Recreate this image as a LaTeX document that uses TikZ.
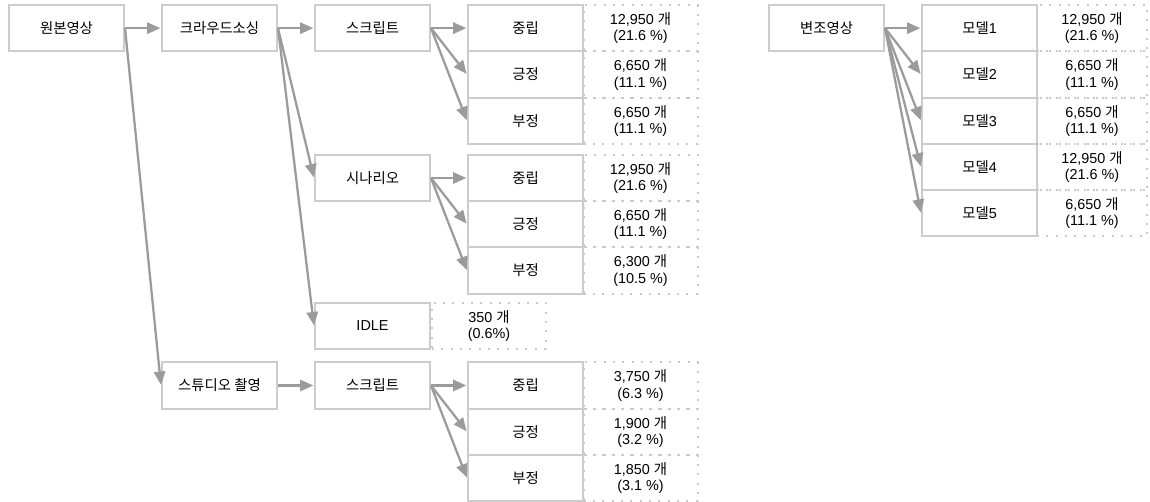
\documentclass[tikz,border=0pt]{standalone}
\usepackage{fontspec}
\setmainfont{Liberation Sans}
\newfontfamily\kr{Noto Sans CJK KR}
\usetikzlibrary{arrows.meta}
\definecolor{boxgray}{HTML}{CCCCCC}
\definecolor{arrgray}{HTML}{9B9B9B}
\definecolor{dotgray}{HTML}{CACACA}
\begin{document}
\begin{tikzpicture}[x=0.75pt,y=-0.75pt,
  font=\fontsize{10.8}{12.2}\selectfont,
  box/.style={draw=boxgray, line width=1.5pt, fill=white, minimum width=86.25pt, minimum height=34.7pt, inner sep=0pt, align=center},
  dotbox/.style={draw=dotgray, line width=1.5pt, dash pattern=on 1.5pt off 5.5pt, minimum width=85.5pt, minimum height=34.7pt, inner sep=0pt, align=center},
  dotboxr/.style={dotbox, minimum width=82.5pt},
  arr/.style={draw=arrgray, line width=1.7pt, -{Triangle[length=10pt,width=8.5pt]}, shorten >=0.5pt}
]
\useasboundingbox (0,0) rectangle (1150,502);

% dotted count boxes (drawn first)
\node[dotbox] (c1) at (640.5,28.15) {12,950 {\kr 개}\\(21.6 \%)};
\node[dotbox] (c2) at (640.5,74.45) {6,650 {\kr 개}\\(11.1 \%)};
\node[dotbox] (c3) at (640.5,120.75) {6,650 {\kr 개}\\(11.1 \%)};
\node[dotbox] (c4) at (640.5,178) {12,950 {\kr 개}\\(21.6 \%)};
\node[dotbox] (c5) at (640.5,224.3) {6,650 {\kr 개}\\(11.1 \%)};
\node[dotbox] (c6) at (640.5,270.6) {6,300 {\kr 개}\\(10.5 \%)};
\node[dotbox] (c7) at (489,326) {350 {\kr 개}\\(0.6\%)};
\node[dotbox] (c8) at (640.5,385.5) {3,750 {\kr 개}\\(6.3 \%)};
\node[dotbox] (c9) at (640.5,431.8) {1,900 {\kr 개}\\(3.2 \%)};
\node[dotbox] (c10) at (640.5,478.1) {1,850 {\kr 개}\\(3.1 \%)};

\node[dotboxr] (m1c) at (1092,28.15) {12,950 {\kr 개}\\(21.6 \%)};
\node[dotboxr] (m2c) at (1092,74.45) {6,650 {\kr 개}\\(11.1 \%)};
\node[dotboxr] (m3c) at (1092,120.75) {6,650 {\kr 개}\\(11.1 \%)};
\node[dotboxr] (m4c) at (1092,167.05) {12,950 {\kr 개}\\(21.6 \%)};
\node[dotboxr] (m5c) at (1092,213.35) {6,650 {\kr 개}\\(11.1 \%)};

% left tree
\node[box] (src) at (66.5,28.15) {\kr 원본영상};
\node[box] (cs) at (219.5,28.15) {\kr 크라우드소싱};
\node[box] (scr1) at (372.5,28.15) {\kr 스크립트};
\node[box] (n1) at (525.5,28.15) {\kr 중립};
\node[box] (p1) at (525.5,74.45) {\kr 긍정};
\node[box] (g1) at (525.5,120.75) {\kr 부정};

\node[box] (sce) at (372.5,178) {\kr 시나리오};
\node[box] (n2) at (525.5,178) {\kr 중립};
\node[box] (p2) at (525.5,224.3) {\kr 긍정};
\node[box] (g2) at (525.5,270.6) {\kr 부정};

\node[box] (idle) at (372.5,326) {IDLE};

\node[box] (std) at (219.5,385.5) {\kr 스튜디오 촬영};
\node[box] (scr2) at (372.5,385.5) {\kr 스크립트};
\node[box] (n3) at (525.5,385.5) {\kr 중립};
\node[box] (p3) at (525.5,431.8) {\kr 긍정};
\node[box] (g3) at (525.5,478.1) {\kr 부정};

% right tree
\node[box] (mod) at (826.5,28.15) {\kr 변조영상};
\node[box] (m1) at (979.5,28.15) {{\kr 모델}1};
\node[box] (m2) at (979.5,74.45) {{\kr 모델}2};
\node[box] (m3) at (979.5,120.75) {{\kr 모델}3};
\node[box] (m4) at (979.5,167.05) {{\kr 모델}4};
\node[box] (m5) at (979.5,213.35) {{\kr 모델}5};

% connectors
\draw[arr] (src.east) -- (cs.west);
\draw[arr] (src.east) -- (std.west);
\draw[arr] (cs.east) -- (scr1.west);
\draw[arr] (cs.east) -- (sce.west);
\draw[arr] (cs.east) -- (idle.west);
\draw[arr] (scr1.east) -- (n1.west);
\draw[arr] (scr1.east) -- (p1.west);
\draw[arr] (scr1.east) -- (g1.west);
\draw[arr] (sce.east) -- (n2.west);
\draw[arr] (sce.east) -- (p2.west);
\draw[arr] (sce.east) -- (g2.west);
\draw[arr] (std.east) -- (scr2.west);
\draw[arr] (scr2.east) -- (n3.west);
\draw[arr] (scr2.east) -- (p3.west);
\draw[arr] (scr2.east) -- (g3.west);
\draw[arr] (mod.east) -- (m1.west);
\draw[arr] (mod.east) -- (m2.west);
\draw[arr] (mod.east) -- (m3.west);
\draw[arr] (mod.east) -- (m4.west);
\draw[arr] (mod.east) -- (m5.west);
\end{tikzpicture}
\end{document}
